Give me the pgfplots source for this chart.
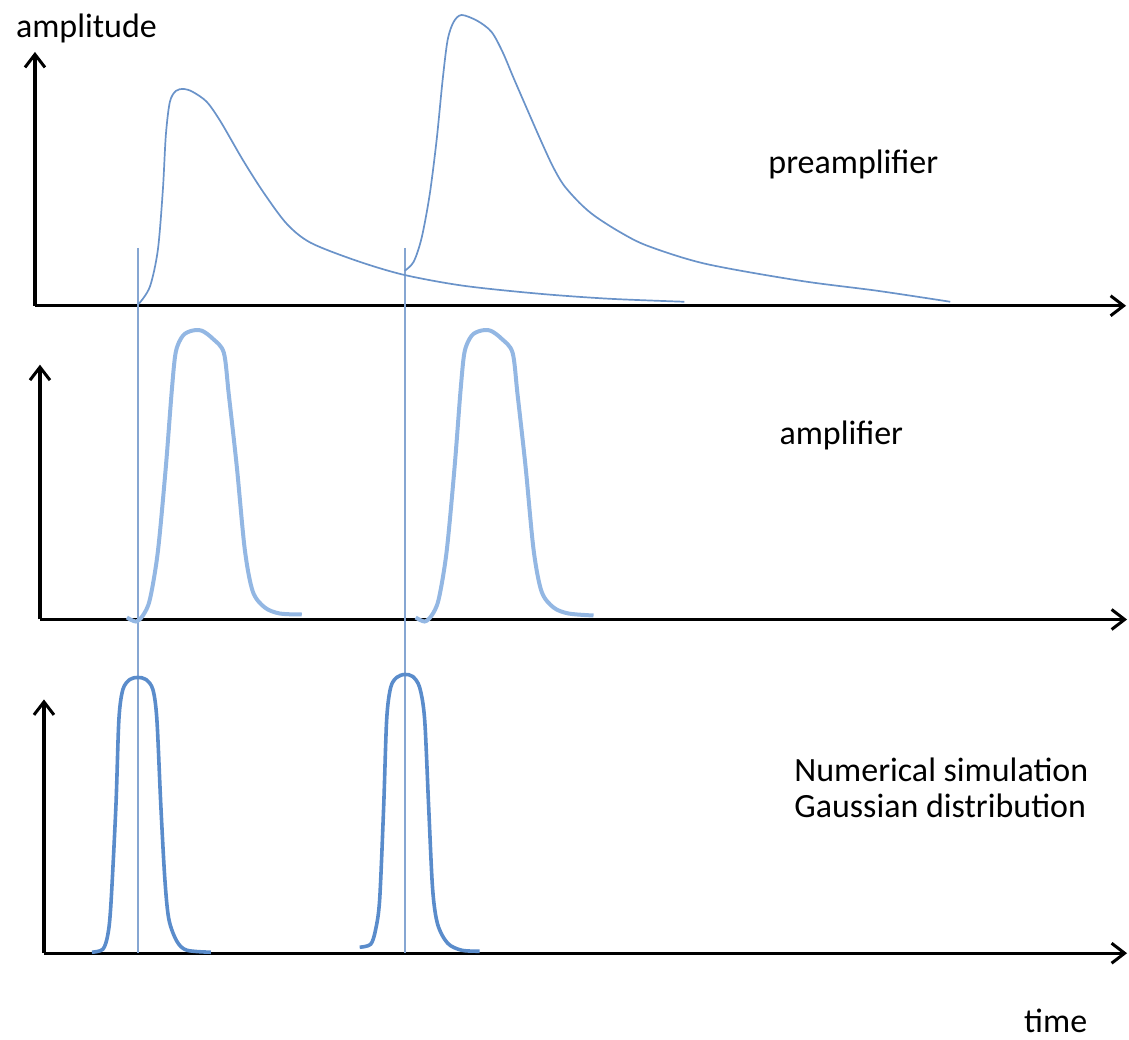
\documentclass[border=0pt]{standalone}
\usepackage{pgfplots}
\pgfplotsset{compat=1.18}
\usetikzlibrary{arrows.meta}
\usepackage{fontspec}
\setmainfont{Carlito}
\definecolor{preamp}{HTML}{6A93C9}
\definecolor{amp}{HTML}{93B7E3}
\definecolor{gauss}{HTML}{5A8CCB}
\definecolor{vline}{HTML}{86A6D2}
\begin{document}
\begin{tikzpicture}
\begin{axis}[
  width=564.5pt, height=519.5pt, scale only axis,
  xmin=0, xmax=1129, ymin=0, ymax=1039, y dir=reverse,
  hide axis, clip=false,
  axarrow/.style={black, line width=1.7pt, -{Straight Barb[length=6.5pt,width=10pt,line width=1.5pt]}},
]
\path (rel axis cs:0,0) rectangle (rel axis cs:1,1);
% axes
\addplot[axarrow] coordinates {(35,306) (35,52)};
\addplot[axarrow] coordinates {(35,306) (1127,306)};
\addplot[axarrow] coordinates {(40,620) (40,365)};
\addplot[axarrow] coordinates {(40,620) (1128,620)};
\addplot[axarrow] coordinates {(44,954) (44,700)};
\addplot[axarrow] coordinates {(44,954) (1128,954)};
% vertical markers
\addplot[vline, line width=1pt] coordinates {(138,248) (138,954)};
\addplot[vline, line width=1pt] coordinates {(405,248) (405,954)};
% preamplifier pulses
\addplot[preamp, line width=0.85pt, smooth, tension=0.5] coordinates {
 (139,304) (150,287) (158,250) (163,190) (166,135) (170,102) (176,91) (184,89) (193,92)
 (207,102) (221,122) (243,160) (264,193) (287,224) (311,243) (357,261) (404,275)
 (464,286) (540,294) (610,299) (685,302)};
\addplot[preamp, line width=0.85pt, smooth, tension=0.5] coordinates {
 (405,271) (414,262) (422,238) (430,195) (437,140) (443,80) (448,40) (454,22) (462,15)
 (478,21) (492,32) (503,52) (514,78) (527,108) (541,140) (553,166) (564,185)
 (580,203) (595,216) (620,232) (648,246) (706,264) (801,281) (878,291) (951,302)};
% amplifier pulses
\addplot[amp, line width=2pt, smooth, tension=0.5] coordinates {
 (127,618) (136,622) (143,616) (150,600) (158,552) (166,467) (172,390) (176,352)
 (183,336) (192,331) (202,331) (213,339) (224,353) (229,395) (237,467) (245,550)
 (253,592) (265,608) (280,614) (302,615)};
\addplot[amp, line width=2pt, smooth, tension=0.5] coordinates {
 (416,618) (425,622) (432,616) (439,600) (447,552) (455,467) (461,390) (465,352)
 (472,336) (481,331) (491,331) (502,339) (513,353) (518,395) (526,467) (534,550)
 (542,592) (554,608) (569,614) (594,616)};
% gaussian pulses
\addplot[gauss, line width=1.8pt, smooth, tension=0.5] coordinates {
 (92,953) (103,950) (108,935) (111,905) (116,807) (119,720) (123,690) (130,680)
 (138,678) (146,680) (153,690) (157,720) (161,807) (165,880) (169,920) (177,942)
 (187,951) (211,953)};
\addplot[gauss, line width=1.8pt, smooth, tension=0.5] coordinates {
 (360,948) (371,945) (376,930) (380,900) (384,807) (387,720) (391,688) (397,678)
 (405,675) (413,677) (420,688) (425,720) (429,807) (433,890) (438,925) (448,944)
 (462,951) (480,952)};
% labels
\node[font=\fontsize{17}{20}\selectfont, anchor=west] at (axis cs:9,28) {amplitude};
\node[font=\fontsize{17}{20}\selectfont] at (axis cs:854,165) {preamplifier};
\node[font=\fontsize{17}{20}\selectfont] at (axis cs:842,436) {amplifier};
\node[font=\fontsize{17}{20}\selectfont, anchor=west] at (axis cs:788,770) {Numerical simulation};
\node[font=\fontsize{17}{20}\selectfont, anchor=west] at (axis cs:788,806) {Gaussian distribution};
\node[font=\fontsize{17}{20}\selectfont, anchor=west] at (axis cs:1018,1022) {time};
\end{axis}
\end{tikzpicture}
\end{document}
